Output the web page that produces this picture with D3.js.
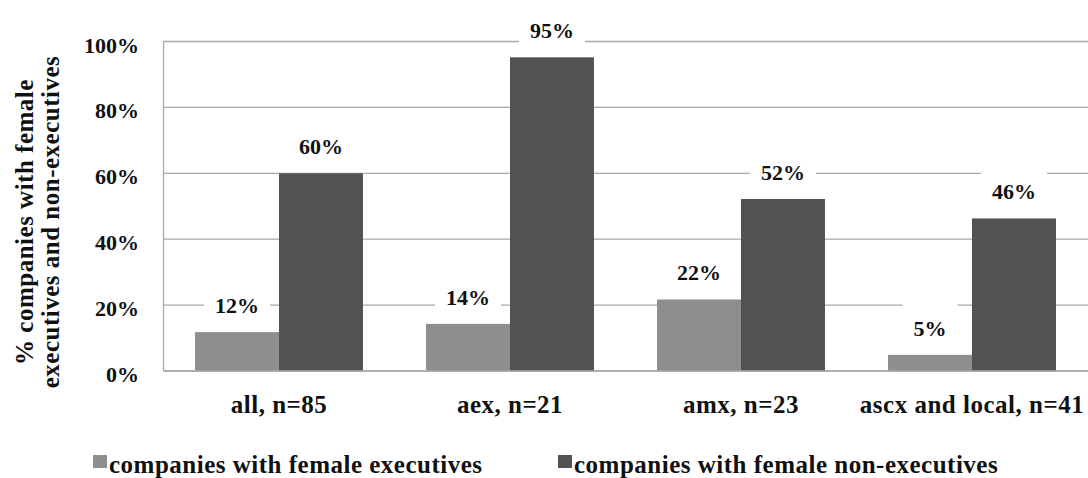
<!DOCTYPE html>
<html>
<head>
<meta charset="utf-8">
<script src="https://cdn.jsdelivr.net/npm/d3@7"></script>
<style>
  body { margin: 0; background: #fff; }
  text { font-family: "Liberation Serif", "DejaVu Serif", serif; font-weight: bold; fill: #111; }
</style>
</head>
<body>
<script>
var categories = ["all, n=85", "aex, n=21", "amx, n=23", "ascx and local, n=41"];
var seriesNames = ["companies with female executives", "companies with female non-executives"];
var executives = [0.118, 0.143, 0.217, 0.049];
var nonExecutives = [0.60, 0.952, 0.522, 0.463];
var yTicks = [0, 0.2, 0.4, 0.6, 0.8, 1.0];

var width = 1088;
var height = 478;
var colors = ["#8e8e8e", "#525252"];
var gridColor = "#a8a8a8";

var svg = d3.select("body")
    .append("svg")
    .attr("width", width)
    .attr("height", height);

// plot box (don't call these top/left, window.top is read-only)
var plotL = 163.5, plotR = 1087.5, plotT = 41.5, plotB = 371;

var x = d3.scaleBand()
    .domain(categories)
    .range([plotL, plotR])
    .paddingInner(0.273)
    .paddingOuter(0.1365);

var xSeries = d3.scaleBand()
    .domain([0, 1])
    .range([0, x.bandwidth()]);

var y = d3.scaleLinear()
    .domain([0, 1])
    .range([plotB, plotT]);

var fmt = d3.format(".0%");

// gridlines
svg.append("g")
    .selectAll("line")
    .data(yTicks)
    .enter()
    .append("line")
    .attr("x1", plotL)
    .attr("x2", plotR + 5)
    .attr("y1", function (d) { return y(d); })
    .attr("y2", function (d) { return y(d); })
    .attr("stroke", gridColor)
    .attr("stroke-width", 1.3);

// left axis line
svg.append("line")
    .attr("x1", plotL).attr("x2", plotL)
    .attr("y1", plotT).attr("y2", plotB)
    .attr("stroke", gridColor)
    .attr("stroke-width", 1.3);

// y tick labels
var yAxis = d3.axisLeft(y)
    .tickValues(yTicks)
    .tickFormat(fmt)
    .tickSize(0)
    .tickPadding(24.5);
var gy = svg.append("g")
    .attr("transform", "translate(" + plotL + ",0)")
    .call(yAxis);
gy.select(".domain").remove();
gy.selectAll("line").remove();
gy.selectAll("text")
    .attr("dy", "0.48em")
    .attr("font-size", 22)
    .attr("font-family", "Liberation Serif, DejaVu Serif, serif")
    .attr("font-weight", "bold")
    .attr("fill", "#111");

// x category labels
var xAxis = d3.axisBottom(x).tickSize(0);
var gx = svg.append("g")
    .attr("transform", "translate(0," + plotB + ")")
    .call(xAxis);
gx.select(".domain").remove();
gx.selectAll("line").remove();
gx.selectAll("text")
    .attr("y", 42)
    .attr("dy", 0)
    .attr("font-size", 25)
    .attr("letter-spacing", 0.5)
    .attr("font-family", "Liberation Serif, DejaVu Serif, serif")
    .attr("font-weight", "bold")
    .attr("fill", "#111");

// bars
var rows = [];
categories.forEach(function (c, i) {
    rows.push({ cat: c, s: 0, v: executives[i] });
    rows.push({ cat: c, s: 1, v: nonExecutives[i] });
});

svg.append("g")
    .selectAll("rect")
    .data(rows)
    .enter()
    .append("rect")
    .attr("x", function (d) { return x(d.cat) + xSeries(d.s); })
    .attr("width", xSeries.bandwidth())
    .attr("y", function (d) { return y(d.v); })
    .attr("height", function (d) { return plotB - y(d.v); })
    .attr("fill", function (d) { return colors[d.s]; });

// bottom axis line over bars
svg.append("line")
    .attr("x1", plotL).attr("x2", plotR + 5)
    .attr("y1", plotB).attr("y2", plotB)
    .attr("stroke", gridColor)
    .attr("stroke-width", 1.3);

// value labels with white boxes
var labels = svg.append("g")
    .selectAll("g")
    .data(rows)
    .enter()
    .append("g")
    .attr("transform", function (d) {
        return "translate(" + (x(d.cat) + xSeries(d.s) + xSeries.bandwidth() / 2) + "," + (y(d.v) - 19) + ")";
    });

labels.append("rect")
    .attr("y", -34)
    .attr("height", 42)
    .attr("fill", "#fff");

labels.append("text")
    .attr("text-anchor", "middle")
    .attr("font-size", 22)
    .text(function (d) { return fmt(d.v); })
    .each(function () {
        var w = this.getComputedTextLength() + 22;
        d3.select(this.parentNode).select("rect")
            .attr("x", -w / 2)
            .attr("width", w);
    });

// y axis title
var yt = svg.append("text")
    .attr("transform", "translate(0,222) rotate(-90)")
    .attr("text-anchor", "middle")
    .attr("font-size", 25)
    .attr("letter-spacing", 0.5);
yt.append("tspan").attr("x", 0).attr("y", 33).text("% companies with female");
yt.append("tspan").attr("x", 0).attr("y", 59).text("executives and non-executives");

// legend
var legendX = [93, 558];
var legend = svg.append("g")
    .selectAll("g")
    .data(seriesNames)
    .enter()
    .append("g")
    .attr("transform", function (d, i) { return "translate(" + legendX[i] + ",455)"; });

legend.append("rect")
    .attr("width", 14)
    .attr("height", 13)
    .attr("fill", function (d, i) { return colors[i]; });

legend.append("text")
    .attr("x", 16)
    .attr("y", 18)
    .attr("font-size", 25)
    .attr("letter-spacing", 0.5)
    .text(function (d) { return d; });
</script>
</body>
</html>
